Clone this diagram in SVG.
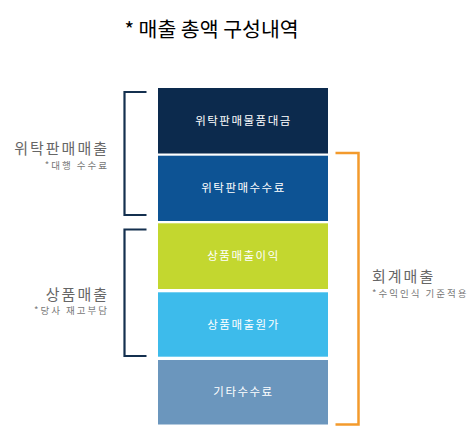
<svg xmlns="http://www.w3.org/2000/svg" width="476" height="436" viewBox="0 0 476 436">
<style>
text{font-family:"Noto Sans CJK KR","Noto Sans",sans-serif}
.box{stroke:none}
.bl{fill:#ffffff;font-size:11.5px;text-anchor:middle;letter-spacing:1.5px}
.main{fill:#666666;font-size:15px;letter-spacing:2px}
.sub{fill:#777777;font-size:9.5px;letter-spacing:2px}
.nb{fill:none;stroke:#14304f;stroke-width:2.2}
.ob{fill:none;stroke:#f39a2c;stroke-width:2.5}
</style>
<rect width="476" height="436" fill="#ffffff"/>
<text x="211.5" y="36.5" text-anchor="middle" style="font-size:20.5px;font-weight:400;fill:#000">* 매출 총액 구성내역</text>
<g id="n1"><rect class="box" x="158" y="88" width="170" height="65.5" fill="#0c2a4d"/><text class="bl" x="243.5" y="125">위탁판매물품대금</text></g>
<g id="n2"><rect class="box" x="158" y="155.7" width="170" height="65.3" fill="#0d5394"/><text class="bl" x="243.5" y="192">위탁판매수수료</text></g>
<g id="n3"><rect class="box" x="158" y="223.3" width="170" height="65.7" fill="#c3d72f"/><text class="bl" x="243.5" y="260">상품매출이익</text></g>
<g id="n4"><rect class="box" x="158" y="292.3" width="170" height="64.4" fill="#3dbbeb"/><text class="bl" x="243.5" y="329">상품매출원가</text></g>
<g id="n5"><rect class="box" x="158" y="360" width="170" height="64.5" fill="#6b96bd"/><text class="bl" x="243.5" y="396">기타수수료</text></g>
<g id="connectors">
<path class="nb" d="M146.5,92 H124.5 V215 H146.5"/>
<path class="nb" d="M146.5,229.5 H124.5 V356 H146.5"/>
<path class="ob" d="M335.5,153 H358.5 V424.5 H335.5"/>
</g>
<g id="l1"><text class="main" x="109" y="154" text-anchor="end">위탁판매매출</text><text class="sub" x="109" y="169" text-anchor="end">*대행 수수료</text></g>
<g id="l2"><text class="main" x="109" y="300" text-anchor="end">상품매출</text><text class="sub" x="109" y="314" text-anchor="end">*당사 재고부담</text></g>
<g id="l3"><text class="main" x="372" y="282">회계매출</text><text class="sub" x="372" y="296.5">*수익인식 기준적용</text></g>
</svg>
